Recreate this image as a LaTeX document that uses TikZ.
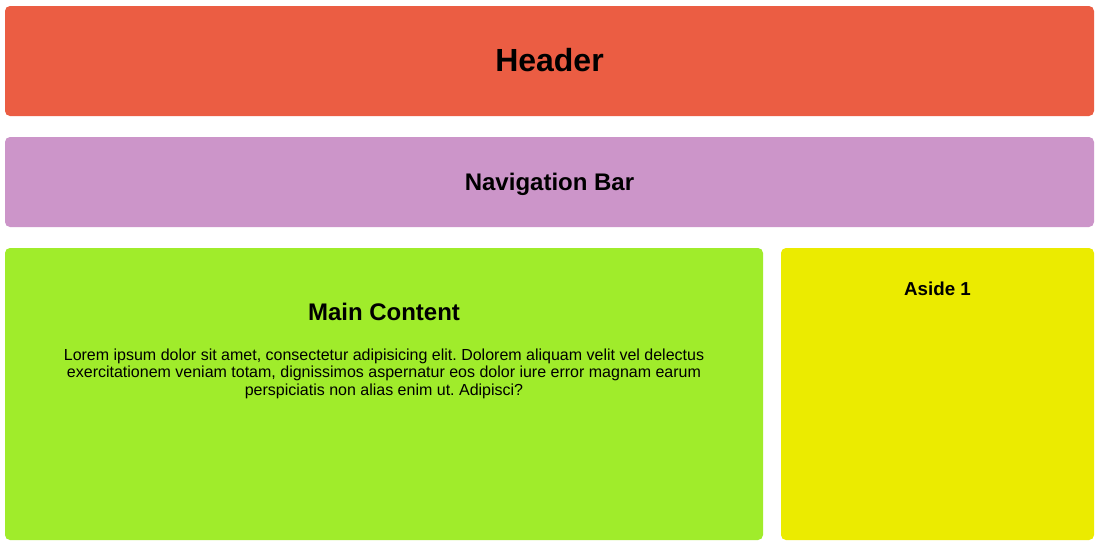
\documentclass[tikz,border=0pt]{standalone}
\usepackage{fontspec}
\setmainfont{Liberation Sans}
\frenchspacing
\definecolor{headerred}{RGB}{235,93,67}
\definecolor{navpurple}{RGB}{204,149,201}
\definecolor{maingreen}{RGB}{160,236,43}
\definecolor{asideyellow}{RGB}{235,235,0}
\begin{document}
\begin{tikzpicture}[x=1pt,y=-1pt,
  panel/.style={rounded corners=5pt, draw=none, inner sep=0pt},
  heading/.style={font=\bfseries, text=black, inner sep=0pt}]
\useasboundingbox[fill=white] (0,0) rectangle (1100,547);
% page regions
\node[panel, fill=headerred, minimum width=1089pt, minimum height=110pt] (header) at (549.5,61) {};
\node[panel, fill=navpurple, minimum width=1089pt, minimum height=90pt] (nav) at (549.5,182) {};
\node[panel, fill=maingreen, minimum width=758pt, minimum height=292pt] (main) at (384,394) {};
\node[panel, fill=asideyellow, minimum width=313pt, minimum height=292pt] (aside) at (937.5,394) {};
% headings
\node[heading, font=\fontsize{32}{36}\selectfont\bfseries] (headertext) at (549.5,60) {Header};
\node[heading, font=\fontsize{24}{28}\selectfont\bfseries] (navtext) at (549.5,184) {Navigation Bar};
\node[heading, font=\fontsize{24}{28}\selectfont\bfseries] (maintitle) at (384,312) {Main Content};
\node[heading, font=\fontsize{18.72}{22}\selectfont\bfseries] (asidetext) at (937.5,289) {Aside 1};
% body text
\node[inner sep=0pt, align=center, font=\fontsize{16}{17.6}\selectfont] (maintext) at (384,373.5)
  {Lorem ipsum dolor sit amet, consectetur adipisicing elit. Dolorem aliquam velit vel delectus\\
   exercitationem veniam totam, dignissimos aspernatur eos dolor iure error magnam earum\\
   perspiciatis non alias enim ut. Adipisci?};
\end{tikzpicture}
\end{document}
